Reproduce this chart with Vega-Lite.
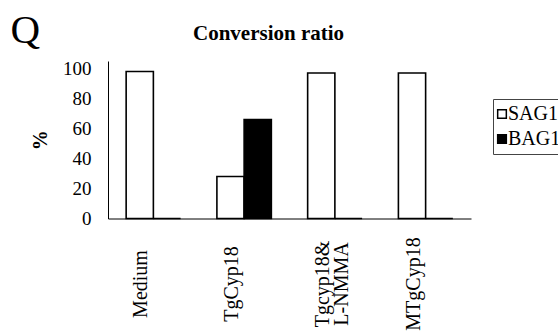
{
  "$schema": "https://vega.github.io/schema/vega-lite/v6.json",
  "padding": {"left": 10, "top": 9, "right": 0, "bottom": 0},
  "background": "white",
  "title": {"text": "Q", "anchor": "start", "frame": "bounds", "font": "Liberation Serif", "fontSize": 41, "fontWeight": "normal", "color": "black", "dy": 33, "dx": -20},
  "vconcat": [
    {
      "width": 363,
      "height": 157.5,
      "title": {"text": "Conversion ratio", "font": "Liberation Serif", "fontSize": 21, "fontWeight": "bold", "color": "black", "anchor": "middle", "dx": -21, "offset": 16},
      "data": {"values": [
        {"condition": "Medium", "marker": "SAG1", "percent": 98},
        {"condition": "Medium", "marker": "BAG1", "percent": 0},
        {"condition": "TgCyp18", "marker": "SAG1", "percent": 28},
        {"condition": "TgCyp18", "marker": "BAG1", "percent": 66},
        {"condition": "Tgcyp18&L-NMMA", "marker": "SAG1", "percent": 97},
        {"condition": "Tgcyp18&L-NMMA", "marker": "BAG1", "percent": 0},
        {"condition": "MTgCyp18", "marker": "SAG1", "percent": 97},
        {"condition": "MTgCyp18", "marker": "BAG1", "percent": 0}
      ]},
      "mark": {"type": "bar", "stroke": "black", "strokeWidth": 1.6},
      "encoding": {
        "x": {"field": "condition", "type": "nominal", "sort": null,
          "scale": {"paddingInner": 0.4, "paddingOuter": 0.2},
          "axis": {"title": null, "ticks": false, "domainColor": "black", "domainWidth": 1,
            "labelAngle": -90, "labelAlign": "center", "labelBaseline": "middle",
            "labelFont": "Liberation Serif", "labelFontSize": 20, "labelColor": "black",
            "labelPadding": 65, "labelOffset": -12, "labelLimit": 0, "labelOverlap": false,
            "labelLineHeight": 19,
            "labelExpr": "datum.value == 'Tgcyp18&L-NMMA' ? ['Tgcyp18&', 'L-NMMA'] : datum.label"}},
        "xOffset": {"field": "marker", "type": "nominal", "sort": ["SAG1", "BAG1"],
          "scale": {"paddingInner": 0, "paddingOuter": 0}},
        "y": {"field": "percent", "type": "quantitative",
          "scale": {"domain": [0, 105], "nice": false},
          "axis": {"values": [0, 20, 40, 60, 80, 100], "title": "%", "grid": false, "ticks": false,
            "domainColor": "black", "domainWidth": 1,
            "labelFont": "Liberation Serif", "labelFontSize": 19, "labelColor": "black", "labelPadding": 17,
            "titleFont": "Liberation Serif", "titleFontSize": 20, "titleFontWeight": "bold", "titleColor": "black",
            "titlePadding": 12}},
        "color": {"field": "marker", "type": "nominal",
          "scale": {"domain": ["SAG1", "BAG1"], "range": ["white", "black"]},
          "legend": {"title": null, "orient": "none", "legendX": 385, "legendY": 38,
            "labelFont": "Liberation Serif", "labelFontSize": 20, "labelColor": "black",
            "symbolType": "square", "symbolSize": 75, "symbolStrokeColor": "black", "symbolStrokeWidth": 1.5,
            "symbolOffset": -6,
            "strokeColor": "#444", "padding": 5, "rowPadding": 5, "labelOffset": -4}}
      }
    }
  ],
  "config": {"view": {"stroke": null}, "font": "Liberation Serif"}
}
